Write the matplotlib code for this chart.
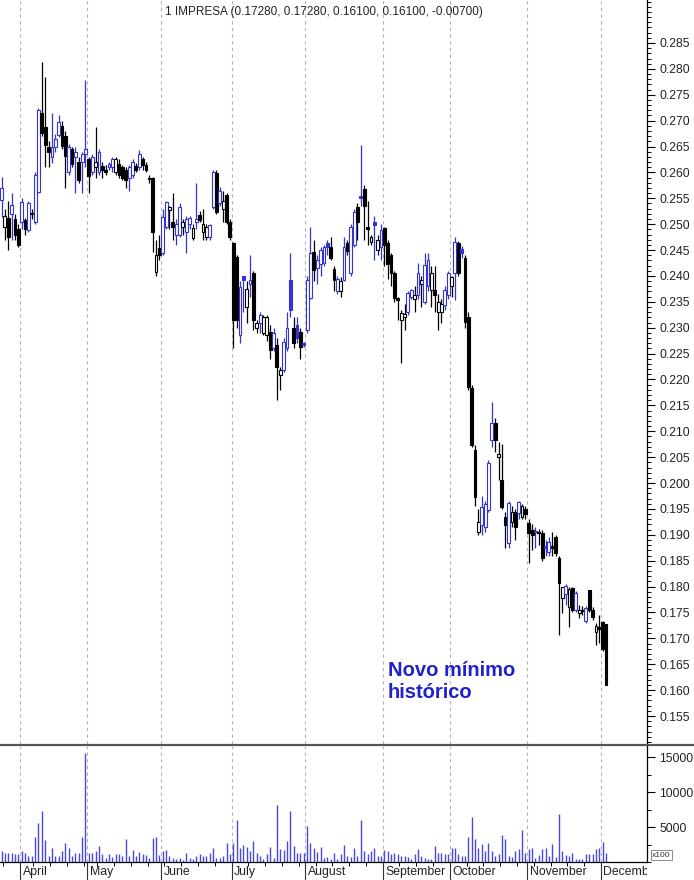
import numpy as np
import pandas as pd
import matplotlib
matplotlib.use("Agg")
import matplotlib.pyplot as plt
from matplotlib.ticker import MultipleLocator, FixedLocator, FormatStrFormatter, NullFormatter
from matplotlib.patches import Rectangle
from matplotlib.lines import Line2D
from matplotlib.transforms import Bbox, TransformedBbox

plt.rcParams['font.family'] = ['Liberation Sans', 'DejaVu Sans']

W, H = 694, 880

# trading days, Lisbon 2012 (closed 6 Apr and 1 May)
holidays = ['2012-04-06', '2012-05-01']
dates = pd.bdate_range('2012-03-23', '2012-12-04')
dates = dates[~dates.isin(pd.to_datetime(holidays))]

opens = [
    .2547, .2495, .2512, .2520, .2510, .2490, .2505, .2508, .2489, .2522,
    .2505, .2562, .2715, .2688, .2650, .2630, .2650, .2672, .2690, .2670,
    .2600, .2645, .2630, .2620, .2620, .2636, .2625, .2600, .2610, .2600,
    .2612, .2605, .2610, .2610, .2600, .2617, .2610, .2605, .2590, .2595,
    .2612, .2610, .2625, .2615, .2588, .2589, .2408, .2454, .2444, .2495,
    .2527, .2504, .2480, .2479, .2495, .2485, .2500, .2473, .2505, .2518,
    .2485, .2475, .2475, .2533, .2599, .2540, .2530, .2556, .2504, .2463,
    .2436, .2286, .2400, .2340, .2385, .2405, .2300, .2309, .2290, .2285,
    .2292, .2260, .2267, .2209, .2218, .2260, .2392, .2300, .2305, .2292,
    .2270, .2296, .2357, .2446, .2415, .2424, .2425, .2463, .2456, .2413,
    .2371, .2371, .2392, .2463, .2405, .2460, .2533, .2555, .2568, .2495,
    .2465, .2505, .2450, .2456, .2492, .2463, .2440, .2405, .2358, .2315,
    .2320, .2330, .2360, .2355, .2363, .2385, .2349, .2380, .2373, .2373,
    .2330, .2330, .2344, .2363, .2380, .2405, .2463, .2452, .2435, .2321,
    .2184, .2064, .1905, .1919, .1915, .1948, .2083, .2116, .2050, .2006,
    .1934, .1884, .1925, .1944, .1942, .1935, .1950, .1923, .1910, .1906,
    .1906, .1904, .1878, .1867, .1878, .1896, .1856, .1778, .1785, .1760,
    .1798, .1755, .1748, .1755, .1734, .1794, .1755, .1713, .1722, .1732,
    .1728]
highs = [
    .2591, .2530, .2545, .2560, .2520, .2500, .2550, .2512, .2545, .2530,
    .2600, .2725, .2813, .2784, .2660, .2715, .2675, .2710, .2700, .2680,
    .2655, .2650, .2650, .2630, .2640, .2779, .2630, .2635, .2688, .2645,
    .2620, .2615, .2620, .2630, .2630, .2625, .2615, .2610, .2615, .2625,
    .2618, .2643, .2630, .2620, .2595, .2592, .2470, .2480, .2530, .2545,
    .2535, .2560, .2510, .2540, .2510, .2515, .2515, .2500, .2580, .2525,
    .2530, .2500, .2500, .2605, .2605, .2572, .2565, .2560, .2510, .2465,
    .2440, .2390, .2400, .2390, .2440, .2410, .2315, .2330, .2325, .2325,
    .2305, .2300, .2280, .2225, .2280, .2330, .2444, .2320, .2320, .2300,
    .2272, .2400, .2494, .2470, .2440, .2455, .2460, .2470, .2475, .2420,
    .2400, .2398, .2475, .2470, .2500, .2530, .2540, .2653, .2575, .2545,
    .2480, .2515, .2480, .2500, .2495, .2470, .2445, .2410, .2360, .2335,
    .2345, .2370, .2375, .2380, .2425, .2400, .2444, .2444, .2420, .2420,
    .2365, .2355, .2380, .2410, .2400, .2475, .2468, .2458, .2440, .2330,
    .2190, .2074, .1950, .1975, .1965, .2045, .2156, .2125, .2079, .2075,
    .1945, .1965, .1955, .1950, .1965, .1960, .1955, .1930, .1920, .1915,
    .1912, .1910, .1890, .1895, .1905, .1900, .1860, .1800, .1805, .1800,
    .1800, .1792, .1765, .1762, .1762, .1794, .1760, .1730, .1745, .1733,
    .1728]
lows = [
    .2514, .2470, .2450, .2470, .2470, .2455, .2490, .2480, .2485, .2510,
    .2500, .2560, .2670, .2610, .2610, .2618, .2640, .2668, .2645, .2570,
    .2595, .2610, .2560, .2580, .2560, .2610, .2560, .2595, .2589, .2595,
    .2590, .2595, .2605, .2600, .2595, .2590, .2585, .2570, .2565, .2590,
    .2600, .2605, .2605, .2600, .2580, .2446, .2400, .2430, .2440, .2490,
    .2490, .2469, .2460, .2475, .2480, .2444, .2490, .2470, .2490, .2505,
    .2470, .2470, .2470, .2530, .2520, .2535, .2505, .2500, .2470, .2260,
    .2300, .2270, .2330, .2310, .2360, .2296, .2290, .2290, .2285, .2275,
    .2240, .2255, .2160, .2180, .2215, .2255, .2321, .2260, .2270, .2240,
    .2262, .2290, .2355, .2390, .2385, .2400, .2420, .2440, .2430, .2370,
    .2365, .2360, .2390, .2440, .2400, .2455, .2470, .2535, .2470, .2460,
    .2460, .2430, .2440, .2430, .2420, .2395, .2380, .2350, .2315, .2232,
    .2295, .2325, .2355, .2330, .2355, .2340, .2345, .2370, .2340, .2330,
    .2296, .2310, .2335, .2355, .2360, .2354, .2400, .2435, .2300, .2180,
    .2070, .1955, .1900, .1900, .1905, .1945, .2070, .2060, .2006, .1950,
    .1875, .1875, .1915, .1890, .1930, .1930, .1930, .1845, .1870, .1875,
    .1880, .1850, .1860, .1860, .1860, .1860, .1706, .1748, .1765, .1722,
    .1750, .1750, .1740, .1745, .1730, .1750, .1735, .1687, .1691, .1675,
    .1610]
closes = [
    .2570, .2515, .2475, .2537, .2480, .2460, .2543, .2490, .2540, .2520,
    .2595, .2721, .2676, .2653, .2640, .2650, .2665, .2698, .2651, .2632,
    .2650, .2617, .2640, .2585, .2635, .2645, .2594, .2630, .2620, .2640,
    .2605, .2600, .2617, .2625, .2625, .2595, .2590, .2585, .2610, .2620,
    .2605, .2635, .2615, .2605, .2590, .2485, .2441, .2441, .2514, .2543,
    .2533, .2495, .2500, .2533, .2505, .2510, .2512, .2492, .2510, .2508,
    .2500, .2495, .2498, .2601, .2524, .2565, .2545, .2504, .2475, .2315,
    .2315, .2379, .2392, .2375, .2392, .2315, .2310, .2325, .2321, .2320,
    .2257, .2290, .2224, .2218, .2273, .2300, .2334, .2270, .2280, .2262,
    .2266, .2392, .2444, .2411, .2430, .2450, .2455, .2456, .2435, .2392,
    .2394, .2390, .2456, .2448, .2494, .2524, .2504, .2550, .2535, .2490,
    .2475, .2498, .2470, .2489, .2460, .2424, .2405, .2357, .2354, .2328,
    .2326, .2367, .2372, .2363, .2405, .2392, .2421, .2430, .2405, .2363,
    .2350, .2345, .2373, .2405, .2398, .2465, .2405, .2445, .2311, .2186,
    .2074, .1973, .1925, .1954, .1960, .2039, .2116, .2083, .2056, .1954,
    .1919, .1961, .1945, .1915, .1963, .1955, .1940, .1904, .1900, .1905,
    .1904, .1856, .1875, .1887, .1875, .1865, .1807, .1800, .1802, .1795,
    .1755, .1788, .1755, .1752, .1759, .1755, .1742, .1723, .1718, .1680,
    .1610]
# volume, in hundreds of shares
volume = [
    1560, 1330, 1330, 1330, 1200, 1090, 1560, 1330, 850, 850,
    3600, 5600, 7350, 3200, 850, 2040, 850, 850, 1560, 2650,
    2040, 850, 1330, 1330, 3600, 15550, 1330, 1330, 1560, 2280,
    1090, 620, 1200, 700, 1090, 1090, 850, 3220, 850, 1660,
    850, 1460, 1200, 1000, 600, 3460, 3550, 1000, 1560, 1660,
    850, 620, 500, 600, 300, 1330, 600, 380, 850, 1090,
    850, 850, 1330, 2040, 600, 600, 850, 2750, 1090, 2750,
    6070, 2040, 2420, 2130, 1560, 3000, 1330, 850, 500, 1200,
    2130, 600, 8200, 1800, 1700, 3000, 7350, 2280, 1330, 1330,
    1330, 5120, 2750, 2040, 1500, 2130, 620, 700, 380, 1330,
    500, 1090, 2420, 850, 700, 2040, 850, 6070, 1560, 1200,
    1560, 2040, 850, 850, 1660, 1560, 1200, 1330, 1200, 850,
    850, 700, 500, 1090, 1800, 850, 600, 500, 500, 2280,
    1330, 1330, 1090, 1090, 2040, 2040, 1090, 850, 850, 3600,
    6450, 3220, 2040, 2600, 1560, 2750, 1560, 850, 1090, 3840,
    3360, 850, 700, 1560, 1800, 4650, 1330, 1800, 2040, 620,
    1000, 1800, 2040, 850, 2600, 700, 6870, 1560, 1000, 850,
    1330, 500, 500, 500, 1090, 1090, 1200, 1800, 2040, 2840,
    1300]

month_names = ['April', 'May', 'June', 'July', 'August', 'September',
               'October', 'November', 'December']
price_ticks = [0.155, 0.160, 0.165, 0.170, 0.175, 0.180, 0.185, 0.190, 0.195,
               0.200, 0.205, 0.210, 0.215, 0.220, 0.225, 0.230, 0.235, 0.240,
               0.245, 0.250, 0.255, 0.260, 0.265, 0.270, 0.275, 0.280, 0.285]
volume_ticks = [5000, 10000, 15000]
title = "1 IMPRESA (0.17280, 0.17280, 0.16100, 0.16100, -0.00700)"
note_lines = ["Novo mínimo", "histórico"]

BLUE = '#3434d4'
GRID = '#b4b4b4'

o = np.array(opens); h = np.array(highs); l = np.array(lows); c = np.array(closes)
v = np.array(volume)
n = len(dates)
idx = np.arange(n)
prev = np.r_[c[0] - 1, c[:-1]]

month_first = [i for i in range(1, n) if dates[i].month != dates[i - 1].month]
month_pos = [i - 0.5 for i in month_first]
week_pos = [i - 0.5 for i in range(1, n) if dates[i].dayofweek == 0 and i not in month_first]

right_px = 647
x0 = -1.55 / 3.358
x1 = (right_px - 1.55) / 3.358

fig = plt.figure(figsize=(W / 100, H / 100), dpi=100)
ax = fig.add_axes([0, 1 - 744 / H, right_px / W, 744 / H])
ax2 = fig.add_axes([0, 1 - 862 / H, right_px / W, (862 - 746) / H])

# price panel: blue = close above previous close, filled = close below open
for i in idx:
    col = BLUE if c[i] > prev[i] else 'black'
    ax.vlines(i, l[i], h[i], color=col, lw=0.9, zorder=2)
    lo, hi = min(o[i], c[i]), max(o[i], c[i])
    filled = c[i] < o[i]
    ax.add_patch(Rectangle((i - 0.42, lo), 0.84, max(hi - lo, 0.00015),
                           facecolor=col if filled else 'white', edgecolor=col,
                           lw=0.8, zorder=3))

for p in month_pos:
    ax.axvline(p, color=GRID, lw=0.8, ls=(0, (3, 3)), zorder=1)
    ax2.axvline(p, color=GRID, lw=0.8, ls=(0, (3, 3)), zorder=1)

ax.set_xlim(x0, x1)
ax.set_ylim(0.155 - 28 / 5177, 0.285 + 43 / 5177)
for s in ['left', 'top', 'bottom']:
    ax.spines[s].set_visible(False)
ax.spines['right'].set_linewidth(0.9)
ax.set_xticks([])
ax.yaxis.tick_right()
ax.yaxis.set_major_locator(FixedLocator(price_ticks))
ax.yaxis.set_minor_locator(MultipleLocator(0.001))
ax.yaxis.set_major_formatter(FormatStrFormatter('%.3f'))
ax.tick_params(axis='y', which='major', direction='out', length=6, width=0.8,
               labelsize=8.8, pad=3, labelcolor='#222222')
ax.tick_params(axis='y', which='minor', direction='out', length=3, width=0.7)

# volume panel
ax2.vlines(idx, 0, v, color='#4a4ad8', lw=1.0, zorder=2)
ax2.set_xlim(x0, x1)
ax2.set_ylim(0, 16600)
for s in ['left', 'top']:
    ax2.spines[s].set_visible(False)
ax2.spines['right'].set_linewidth(0.9)
ax2.spines['bottom'].set_linewidth(0.9)
ax2.yaxis.tick_right()
ax2.yaxis.set_major_locator(FixedLocator(volume_ticks))
ax2.yaxis.set_minor_locator(MultipleLocator(2500))
ax2.tick_params(axis='y', which='major', direction='out', length=6, width=0.8,
                labelsize=8.8, pad=3, labelcolor='#222222')
ax2.tick_params(axis='y', which='minor', direction='out', length=3, width=0.7)
ax2.xaxis.set_major_locator(FixedLocator(month_pos))
ax2.xaxis.set_minor_locator(FixedLocator(week_pos))
ax2.xaxis.set_major_formatter(NullFormatter())
ax2.tick_params(axis='x', which='major', direction='out', length=13, width=0.8, color='#333333')
ax2.tick_params(axis='x', which='minor', direction='out', length=3, width=0.7)

clip = TransformedBbox(Bbox([[0, 0], [right_px / W, 1]]), fig.transFigure)
for p, name in zip(month_pos, month_names):
    xf = ax2.transData.transform((p, 0))[0] / W
    t = fig.text(xf + 2.5 / W, 1 - 872 / H, name, fontsize=8.8, va='center',
                 ha='left', color='#222222')
    t.set_clip_on(True)
    t.set_clip_box(clip)

fig.text(165 / W, 1 - 12 / H, title, fontsize=8.5, va='center', ha='left',
         color='#222222')
for k, line in enumerate(note_lines):
    fig.text(388 / W, 1 - (670 + 22 * k) / H, line, fontsize=14.5,
             fontweight='bold', color='#2020cc', va='center', ha='left')
fig.text(652 / W, 1 - 855 / H, 'x100', fontsize=6, va='center', ha='left',
         color='#333333',
         bbox=dict(boxstyle='square,pad=0.15', fc='white', ec='#777777', lw=0.6))

fig.add_artist(Line2D([0, 1], [1 - 744.5 / H] * 2, transform=fig.transFigure,
                      color='#555555', lw=1.6))

fig.savefig('out.png', dpi=100)
